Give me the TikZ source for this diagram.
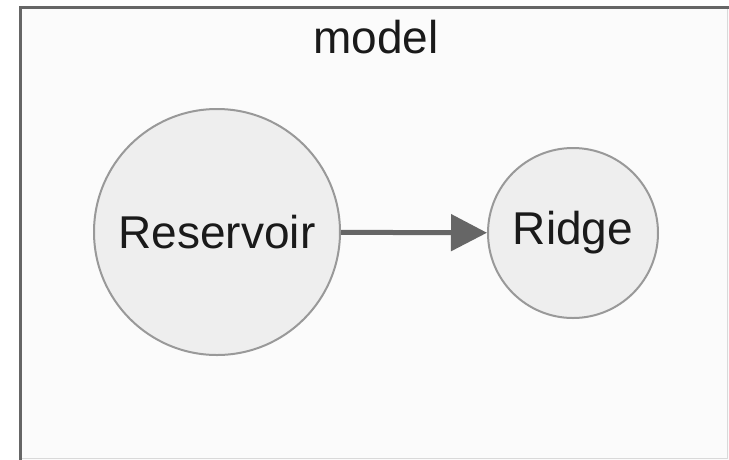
\documentclass[tikz,border=0pt]{standalone}
\usepackage{fontspec}
\setmainfont{Liberation Sans}
\usetikzlibrary{arrows.meta}
\definecolor{clusterfill}{HTML}{FBFBFB}
\definecolor{clusterline}{HTML}{666666}
\definecolor{nodefill}{HTML}{EEEEEE}
\definecolor{nodeline}{HTML}{999999}
\definecolor{edgecol}{HTML}{666666}
\definecolor{txt}{HTML}{1A1A1A}
\tikzset{
  px/.style={x=1pt,y=-1pt},
  opnode/.style={circle, draw=nodeline, fill=nodefill, line width=2pt, inner sep=0pt,
    text=txt, font=\fontsize{46}{50}\selectfont},
  flow/.style={draw=edgecol, line width=5pt,
    -{Triangle[length=36pt,width=36pt]}},
}
\begin{document}
\begin{tikzpicture}[px]
\useasboundingbox (0,0) rectangle (729,459);
\fill[white] (0,0) rectangle (729,459);
% outer cluster box
\draw[fill=clusterfill, draw=clusterline, line width=3pt] (20.5,7.5) rectangle (740,470);
\draw[draw=black!15, line width=1pt] (727.5,9) -- (727.5,458) -- (22,458);
\node[text=txt, font=\fontsize{46}{50}\selectfont] (title) at (376,37) {model};
% operators
\node[opnode, minimum size=246pt] (res) at (217,232) {Reservoir};
\node[opnode, minimum size=170pt] (ridge) at (573,233) {Ridge};
\draw[flow] (res) -- (ridge);
\end{tikzpicture}
\end{document}
